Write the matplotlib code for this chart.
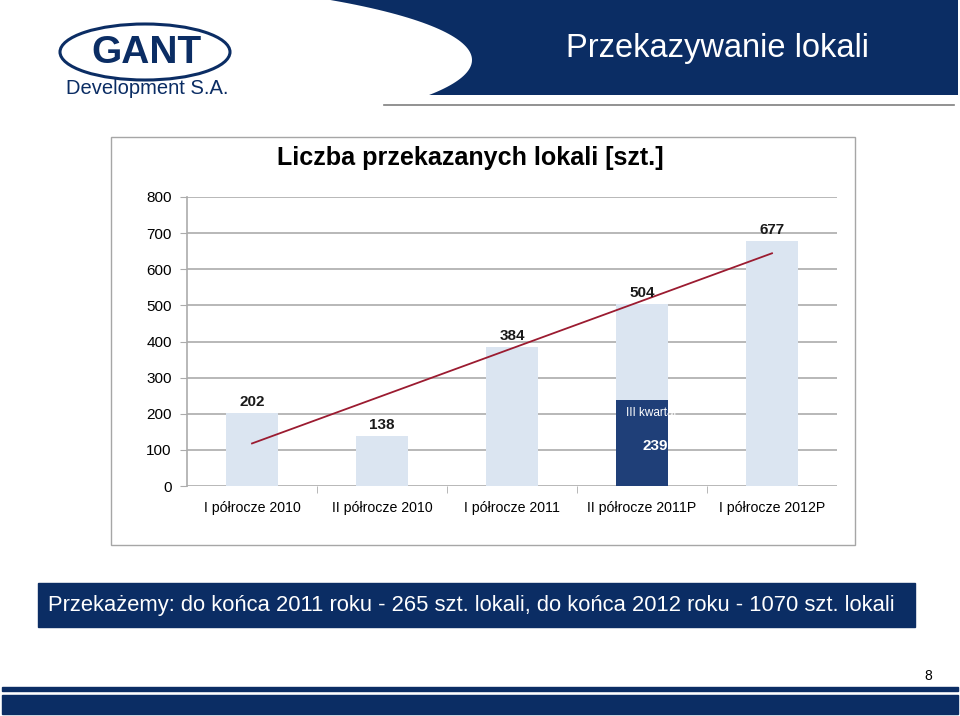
import numpy as np
import matplotlib
matplotlib.use("Agg")
import matplotlib.pyplot as plt
from matplotlib.patches import Rectangle, Ellipse, Polygon

plt.rcParams['font.family'] = ['Liberation Sans', 'DejaVu Sans']

# data
categories = ["I półrocze 2010", "II półrocze 2010", "I półrocze 2011",
              "II półrocze 2011P", "I półrocze 2012P"]
values = [202, 138, 384, 504, 677]
q3_value = 239          # III kwartał part of II półrocze 2011P
q3_index = 3
yticks = [0, 100, 200, 300, 400, 500, 600, 700, 800]

navy = '#0b2d64'
light_bar = '#dbe5f1'
dark_bar = '#1f3f78'
grid_col = '#ababab'

W, H = 960, 716
fig = plt.figure(figsize=(W / 100, H / 100), dpi=100)

# background layer in pixel coordinates
bg = fig.add_axes([0, 0, 1, 1])
bg.set_xlim(0, W)
bg.set_ylim(H, 0)
bg.axis('off')

# header banner, left edge follows a curve
ys = np.linspace(0, 95, 60)
xs = 472 * np.sqrt(1 - ((ys - 60) / 84) ** 2)
pts = list(zip(xs, ys)) + [(958, 95), (958, 0)]
bg.add_patch(Polygon(pts, closed=True, color=navy, lw=0, zorder=1))
bg.text(718, 49, "Przekazywanie lokali", color='white', fontsize=23.5,
        ha='center', va='center', zorder=3)
bg.plot([384, 954], [105, 105], color='#7f7f7f', lw=1.2, zorder=3)

# logo
bg.add_patch(Ellipse((145, 52), 170, 56, fill=False, ec=navy, lw=2.2, zorder=3))
bg.text(146, 53, "GANT", color=navy, fontsize=28, fontweight='bold',
        ha='center', va='center', zorder=4)
bg.text(147, 88, "Development S.A.", color=navy, fontsize=14.5,
        ha='center', va='center', zorder=4)

# chart frame
bg.add_patch(Rectangle((111, 137), 744, 408, fill=False, ec='#a6a6a6', lw=1, zorder=1))
bg.text(470, 158, "Liczba przekazanych lokali [szt.]", fontsize=18.1,
        fontweight='bold', ha='center', va='center')

# bottom message
bg.add_patch(Rectangle((38, 583), 877, 44, color=navy, zorder=1))
bg.text(48, 606, "Przekażemy: do końca 2011 roku - 265 szt. lokali, do końca 2012 roku - 1070 szt. lokali",
        color='white', fontsize=15.8, ha='left', va='center', zorder=2)

# footer
bg.text(928, 676, "8", fontsize=10, ha='center', va='center')
bg.add_patch(Rectangle((2, 687), 956, 4, color=navy, zorder=1))
bg.add_patch(Rectangle((2, 695), 956, 19, color=navy, zorder=1))

# chart axes
left, right, top, bottom = 187, 837, 197, 486
ax = fig.add_axes([left / W, (H - bottom) / H, (right - left) / W, (bottom - top) / H])
ax.patch.set_alpha(0)

x = np.arange(len(categories))
bars = ax.bar(x, values, width=0.4, color=light_bar, zorder=2)
dark = ax.bar(q3_index, q3_value, width=0.4, color=dark_bar, zorder=3)[0]

for xi, v in zip(x, values):
    ax.text(xi, v + 12, str(v), ha='center', va='bottom', fontsize=11,
            fontweight='bold', color='#1a1a1a', zorder=5)

t = ax.text(q3_index - 0.12, 202, "III kwartał", color='white', fontsize=8.5,
            ha='left', va='center', zorder=5)
t.set_clip_path(dark)
ax.text(q3_index + 0.1, 111, str(q3_value), color='white', fontsize=11,
        fontweight='bold', ha='center', va='center', zorder=5)

# linear trend line
k, b = np.polyfit(x, values, 1)
ax.plot(x[[0, -1]], k * x[[0, -1]] + b, color='#9b1b30', lw=1.3, zorder=4)

ax.set_xlim(-0.5, len(categories) - 0.5)
ax.set_ylim(0, 800)
ax.set_yticks(yticks)
ax.set_xticks(x)
ax.set_xticks(x[1:] - 0.5, minor=True)
ax.set_xticklabels(categories, fontsize=10.2)
ax.tick_params(axis='y', labelsize=11, length=5, color=grid_col, pad=6)
ax.tick_params(axis='x', which='major', length=0, pad=11)
ax.tick_params(axis='x', which='minor', length=5, color=grid_col)
ax.grid(axis='y', color=grid_col, lw=1.2, zorder=0)
ax.set_axisbelow(True)
for s in ['top', 'right', 'bottom']:
    ax.spines[s].set_visible(False)
ax.spines['left'].set_color(grid_col)
ax.spines['left'].set_linewidth(1.2)

fig.savefig("out.png", dpi=100)
